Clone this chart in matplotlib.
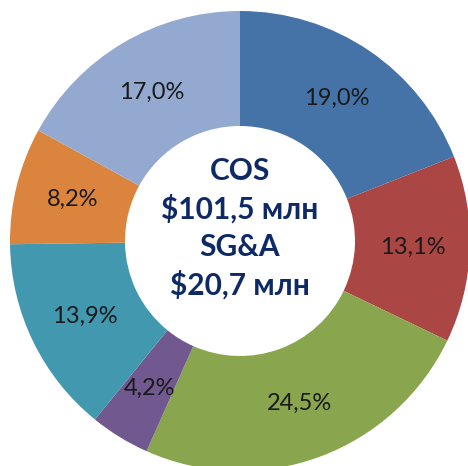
import matplotlib
matplotlib.use("Agg")
import matplotlib.pyplot as plt

# cost structure shares, clockwise from 12 o'clock
shares = [19.0, 13.1, 24.5, 4.2, 13.9, 8.2, 17.0]
colors = ["#4573A7", "#AA4644", "#89A54E", "#71588F", "#4298AF", "#DB843D", "#93A9CF"]
center_lines = ["COS", "$101,5 млн", "SG&A", "$20,7 млн"]

plt.rcParams["font.family"] = ["Lato", "DejaVu Sans"]

fig = plt.figure(figsize=(4.68, 4.66), dpi=100)
ax = fig.add_axes([0, 0, 1, 1])

# pixel scale: ring centre at (240, 241) from top-left, outer radius 230 px
scale = 230.0
cx, cy = 240.0, 241.0

wedges, texts, autotexts = ax.pie(
    shares,
    colors=colors,
    startangle=90,
    counterclock=False,
    radius=1.0,
    wedgeprops=dict(width=0.5, linewidth=0),
    autopct=lambda p: f"{p:.1f}%".replace(".", ","),
    pctdistance=0.75,
    textprops=dict(fontsize=17, color="#1a1a1a"),
)

ax.text(0, 0.055, "\n".join(center_lines), ha="center", va="center",
        fontsize=21.5, fontweight="bold", color="#0E2A66", linespacing=1.38)

ax.set_xlim(-cx / scale, (468 - cx) / scale)
ax.set_ylim(-(466 - cy) / scale, cy / scale)
ax.set_aspect("auto")
ax.axis("off")

fig.savefig("out.png", dpi=100, facecolor="white")
